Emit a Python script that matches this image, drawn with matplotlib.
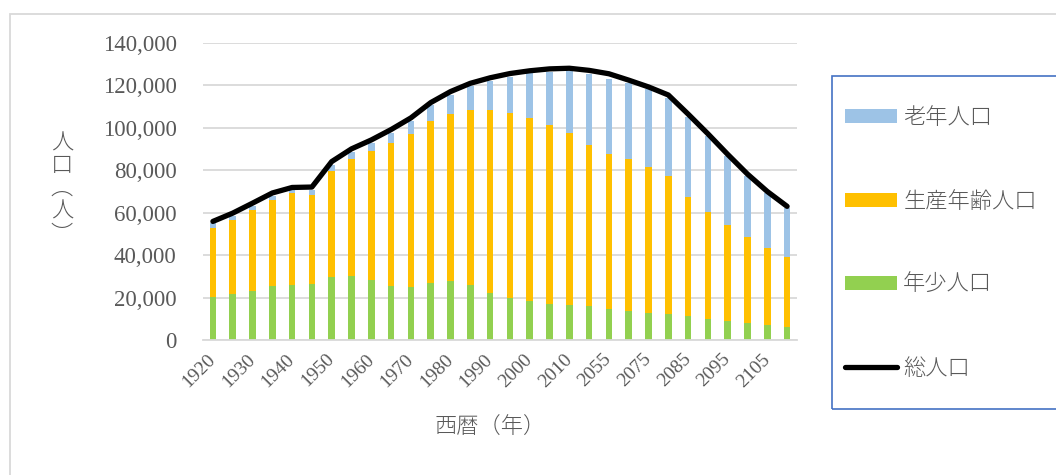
import numpy as np
import matplotlib.pyplot as plt
import matplotlib as mpl
from matplotlib.patches import Rectangle
from matplotlib.ticker import FuncFormatter

plt.rcParams["font.family"] = ["Liberation Serif", "Noto Sans CJK JP"]

years = ["1920", "1925", "1930", "1935", "1940", "1945", "1950", "1955", "1960", "1965",
         "1970", "1975", "1980", "1985", "1990", "1995", "2000", "2005", "2010", "2015",
         "2055", "2065", "2075", "2080", "2085", "2090", "2095", "2100", "2105", "2110"]
young = [20200, 21700, 23300, 25500, 26100, 26500, 29600, 30100, 28500, 25400,
         24900, 27100, 27600, 25800, 22200, 19900, 18200, 17100, 16600, 15800,
         14700, 13700, 12900, 12300, 11300, 9800, 8800, 7900, 6900, 6300]
working = [32600, 34800, 37800, 40300, 43300, 41700, 50200, 55100, 60500, 67500,
           72400, 76100, 78700, 82500, 86000, 87200, 86400, 84200, 81100, 76200,
           73000, 71800, 68800, 64900, 55900, 50400, 45400, 40600, 36300, 32600]
elderly = [2300, 1800, 1900, 1900, 1500, 2300, 2900, 3300, 3900, 4700,
           5800, 7400, 9400, 11400, 13800, 17000, 21400, 25200, 29100, 33500,
           35400, 35800, 36400, 37000, 38000, 35900, 32400, 28700, 26100, 23300]
total = [55900, 59800, 64500, 69300, 71900, 72100, 84100, 90100, 94300, 99200,
         104700, 111900, 117100, 121000, 123600, 125600, 126900, 127800, 128100, 127100,
         125500, 122500, 119300, 115500, 106500, 97200, 87500, 78200, 70000, 63000]

W, H = 1056, 475
fig = plt.figure(figsize=(W / 100, H / 100), dpi=100)
ax = fig.add_axes([203 / W, (H - 340) / H, (797 - 203) / W, (340 - 43) / H])

grey = "#595959"
x = np.arange(len(years))
bw = 0.33
young = np.array(young)
working = np.array(working)
elderly = np.array(elderly)

b_young = ax.bar(x, young, bw, color="#92D050", linewidth=0, zorder=2)
b_work = ax.bar(x, working, bw, bottom=young, color="#FFC000", linewidth=0, zorder=2)
b_old = ax.bar(x, elderly, bw, bottom=young + working, color="#9DC3E6", linewidth=0, zorder=2)
ln, = ax.plot(x, total, color="black", linewidth=3.8, solid_capstyle="round",
              solid_joinstyle="round", zorder=3)

ax.set_xlim(-0.5, len(years) - 0.5)
ax.set_ylim(0, 140000)
ax.set_yticks(np.arange(0, 140001, 20000))
ax.yaxis.set_major_formatter(FuncFormatter(lambda v, p: f"{int(v):,}"))
ax.grid(axis="y", color="#D9D9D9", linewidth=1.3, zorder=0)
ax.set_axisbelow(True)
for s in ["top", "right", "left"]:
    ax.spines[s].set_visible(False)
ax.spines["bottom"].set_color("#D9D9D9")
ax.spines["bottom"].set_linewidth(1.3)

ax.tick_params(axis="y", length=0, pad=19, labelsize=16.5, labelcolor=grey)
ax.set_xticks(x[::2])
ax.set_xticklabels(years[::2], rotation=45, ha="right", va="center",
                   rotation_mode="anchor")
ax.tick_params(axis="x", length=0, pad=12, labelsize=14, labelcolor=grey)

fig.text(490 / W, 1 - 428 / H, "西暦（年）", ha="center", va="center",
         fontsize=16, color=grey, family=["Noto Sans CJK JP"], fontweight="light")
fig.text(62 / W, 1 - 189 / H, "人\n口\n︵\n人\n︶", ha="center", va="center",
         fontsize=16, color=grey, family=["Noto Sans CJK JP"], fontweight="light",
         linespacing=1.05)

# outer chart border
fig.patches.append(Rectangle((10 / W, -0.1), 1.2, 1 - 14 / H + 0.1,
                             transform=fig.transFigure, fill=False,
                             edgecolor="#D9D9D9", linewidth=1.3))
# legend box
fig.patches.append(Rectangle((832 / W, 1 - 409 / H), 0.3, (409 - 76) / H,
                             transform=fig.transFigure, fill=False,
                             edgecolor="#4472C4", linewidth=1.2))

leg = fig.legend([b_old, b_work, b_young, ln], ["老年人口", "生産年齢人口", "年少人口", "総人口"],
                 loc="upper left", bbox_to_anchor=(845 / W, 1 - 107 / H),
                 frameon=False, borderpad=0, borderaxespad=0,
                 handlelength=2.35, handleheight=0.6, handletextpad=0.27,
                 labelspacing=2.77, prop={"family": ["Noto Sans CJK JP"], "size": 16,
                                          "weight": "light"})
for t in leg.get_texts():
    t.set_color(grey)

fig.savefig("out.png", dpi=100)
